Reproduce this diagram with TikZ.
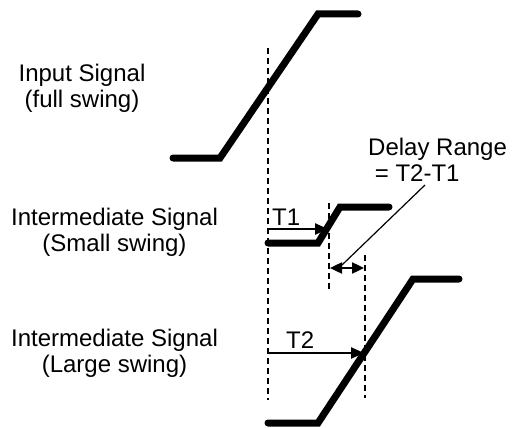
\documentclass[tikz,border=0pt]{standalone}
\usepackage{fontspec}
\setmainfont{Liberation Sans}
\usetikzlibrary{arrows.meta}
\begin{document}
\begin{tikzpicture}[x=1pt,y=-1pt,
  signal/.style={line width=7pt,line cap=round,line join=miter},
  guide/.style={line width=2.4pt,dash pattern=on 6pt off 4pt},
  timearrow/.style={line width=2.4pt,-{Triangle[length=13pt,width=11pt]}},
  rangearrow/.style={line width=2.4pt,{Triangle[length=12pt,width=11pt]}-{Triangle[length=12pt,width=11pt]}},
  lbl/.style={font=\fontsize{24}{26}\selectfont,inner sep=0pt}]
\useasboundingbox (0,0) rectangle (512,428);
% labels
\node[lbl,anchor=base] (in1) at (82,82) {Input Signal};
\node[lbl,anchor=base] (in2) at (82,108) {(full swing)};
\node[lbl,anchor=base] (sm1) at (114.5,225) {Intermediate Signal};
\node[lbl,anchor=base] (sm2) at (114.5,251) {(Small swing)};
\node[lbl,anchor=base] (lg1) at (114.5,346) {Intermediate Signal};
\node[lbl,anchor=base] (lg2) at (114.5,372) {(Large swing)};
\node[lbl,anchor=base west] (dr1) at (368,155) {Delay Range};
\node[lbl,anchor=base west] (dr2) at (368,182) {\ = T2-T1};
\node[lbl,anchor=base west] (t1) at (272,225) {T1};
\node[lbl,anchor=base west] (t2) at (286,348) {T2};
% signals
\draw[signal] (173,158) -- (220,158) -- (318,14) -- (358,14);
\draw[signal] (268,243) -- (318,243) -- (340,207) -- (389,207);
\draw[signal] (268,423) -- (318,423) -- (413,279) -- (459,279);
% dashed guides
\coordinate (g1a) at (268,48); \coordinate (g1b) at (268,400);
\coordinate (g2a) at (329,203); \coordinate (g2b) at (329,292);
\coordinate (g3a) at (365,255); \coordinate (g3b) at (365,398);
\draw[guide] (g1a) -- (g1b);
\draw[guide] (g2a) -- (g2b);
\draw[guide] (g3a) -- (g3b);
% arrows
\coordinate (a1s) at (268,229); \coordinate (a1e) at (328,229);
\coordinate (a2s) at (268,353); \coordinate (a2e) at (364,353);
\coordinate (rs) at (330,268); \coordinate (re) at (364,268);
\draw[timearrow] (a1s) -- (a1e);
\draw[timearrow] (a2s) -- (a2e);
\draw[rangearrow] (rs) -- (re);
\coordinate (lead) at (425,185);
\coordinate (leadend) at (342,265);
\draw[line width=1.2pt] (lead) -- (leadend);
\end{tikzpicture}
\end{document}
